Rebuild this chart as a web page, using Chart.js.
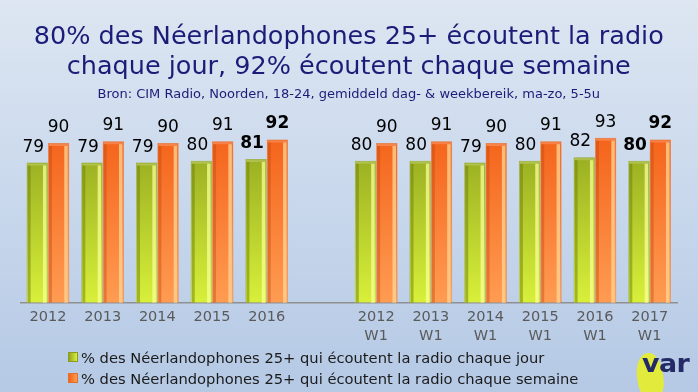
<!DOCTYPE html>
<html>
<head>
<meta charset="utf-8">
<script src="https://cdn.jsdelivr.net/npm/chart.js@4"></script>
<style>
    html, body {
        margin: 0;
        padding: 0;
    }
    body {
        width: 698px;
        height: 392px;
        overflow: hidden;
        position: relative;
        background: linear-gradient(to bottom, #dde6f2 0%, #c9d8ec 50%, #b5c9e5 100%);
        font-family: 'DejaVu Sans', sans-serif;
    }
    #wrap {
        position: absolute;
        left: 0;
        top: 0;
        width: 698px;
        height: 392px;
    }
    #legend {
        position: absolute;
        left: 68px;
        top: 347px;
        font-size: 14.7px;
        color: #1a1a1a;
        line-height: 21px;
    }
    #legend .item {
        white-space: nowrap;
    }
    #legend .box {
        display: inline-block;
        width: 8px;
        height: 8px;
        margin-right: 3px;
        vertical-align: 1px;
    }
    #logo {
        position: absolute;
        left: 630px;
        top: 346px;
        width: 68px;
        height: 46px;
    }
    #logo .blob {
        position: absolute;
        left: 7px;
        top: 7px;
        width: 26px;
        height: 46px;
        background: #e2ea3c;
        border-radius: 50% 45% 40% 40%;
        transform: rotate(-8deg);
    }
    #logo .txt {
        position: absolute;
        left: 12px;
        top: 4px;
        font: bold 24px 'DejaVu Sans', sans-serif;
        line-height: 28px;
        color: #232a66;
        letter-spacing: -0.5px;
        transform: scaleX(1.12);
        transform-origin: left top;
    }
</style>
</head>
<body>
<div id="wrap"><canvas id="barChart" width="698" height="392"></canvas></div>
<div id="legend"></div>
<div id="logo"><div class="blob"></div><div class="txt">var</div></div>
<script>
const categories = ['2012', '2013', '2014', '2015', '2016', '',
    ['2012', 'W1'], ['2013', 'W1'], ['2014', 'W1'], ['2015', 'W1'], ['2016', 'W1'], ['2017', 'W1']]
const dailyValues = [79, 79, 79, 80, 81, null, 80, 80, 79, 80, 82, 80]
const weeklyValues = [90, 91, 90, 91, 92, null, 90, 91, 90, 91, 93, 92]
const boldIndexes = [4, 11]
const seriesNames = [
    '% des Néerlandophones 25+ qui écoutent la radio chaque jour',
    '% des Néerlandophones 25+ qui écoutent la radio chaque semaine',
]
const titleLines = ['80% des Néerlandophones 25+ écoutent la radio', 'chaque jour, 92% écoutent chaque semaine']
const subtitleText = 'Bron: CIM Radio, Noorden, 18-24, gemiddeld dag- & weekbereik, ma-zo, 5-5u'

const palette = [
    { top: '#91a51e', bottom: '#d8f03a', light: 'rgba(250,255,150,0.75)', dark: 'rgba(110,125,10,0.5)', border: '#8a9a24' },
    { top: '#f4621a', bottom: '#ff9c52', light: 'rgba(255,215,150,0.75)', dark: 'rgba(190,70,10,0.4)', border: '#e0702a' },
]

function barGradient(ctx, idx) {
    const chart = ctx.chart
    const area = chart.chartArea
    if (!area) return palette[idx].top
    const yScale = chart.scales.y
    const g = chart.ctx.createLinearGradient(0, yScale.getPixelForValue(95), 0, area.bottom)
    g.addColorStop(0, palette[idx].top)
    g.addColorStop(1, palette[idx].bottom)
    return g
}

// bevel strips + value labels
const barDecor = {
    id: 'barDecor',
    afterDatasetsDraw(chart) {
        const c = chart.ctx
        chart.data.datasets.forEach((ds, di) => {
            const meta = chart.getDatasetMeta(di)
            meta.data.forEach((bar, i) => {
                const v = ds.data[i]
                if (v == null) return
                const w = bar.width
                const left = bar.x - w / 2
                const right = bar.x + w / 2
                const h = bar.base - bar.y
                c.save()
                c.fillStyle = palette[di].light
                c.fillRect(right - 5, bar.y + 3, 3.5, h - 3)
                c.fillStyle = palette[di].dark
                c.fillRect(left + 1, bar.y + 3, 3, h - 3)
                c.fillStyle = 'rgba(255,255,255,0.2)'
                c.fillRect(left + 1, bar.y + 1, w - 2, 2)
                c.restore()

                c.save()
                const bold = boldIndexes.includes(i)
                c.font = (bold ? 'bold ' : '') + '17px "DejaVu Sans", sans-serif'
                c.fillStyle = '#000'
                c.textAlign = 'center'
                c.textBaseline = 'alphabetic'
                const dx = di === 0 ? -4 : 0
                c.fillText(String(v), bar.x + dx, bar.y - 11)
                c.restore()
            })
        })
    },
}

const ctx = document.getElementById('barChart').getContext('2d')
const barChart = new Chart(ctx, {
    type: 'bar',
    data: {
        labels: categories,
        datasets: [
            {
                label: seriesNames[0],
                data: dailyValues,
                backgroundColor: (c) => barGradient(c, 0),
                borderColor: palette[0].border,
                borderWidth: 0.5,
            },
            {
                label: seriesNames[1],
                data: weeklyValues,
                backgroundColor: (c) => barGradient(c, 1),
                borderColor: palette[1].border,
                borderWidth: 0.5,
            },
        ],
    },
    options: {
        responsive: false,
        animation: false,
        layout: {
            padding: { left: 20.6, right: 21, top: 8, bottom: 0 },
        },
        datasets: {
            bar: {
                barPercentage: 1,
                categoryPercentage: 0.78,
            },
        },
        scales: {
            x: {
                grid: { display: false },
                border: { display: true, color: '#8f8f8f', width: 1.5 },
                ticks: {
                    color: '#5a5a5a',
                    font: { family: 'DejaVu Sans', size: 14.5, lineHeight: 1.3 },
                    padding: -3,
                    maxRotation: 0,
                    autoSkip: false,
                },
                afterFit(scale) {
                    scale.height = 89.3
                },
            },
            y: {
                display: false,
                min: 0,
                max: 100,
            },
        },
        plugins: {
            legend: { display: false },
            tooltip: { enabled: false },
            title: {
                display: true,
                text: titleLines,
                color: '#1c1c78',
                font: { family: 'DejaVu Sans', size: 25.5, weight: 'normal', lineHeight: 1.15 },
                padding: { top: 15, bottom: 5 },
            },
            subtitle: {
                display: true,
                text: subtitleText,
                color: '#1c1c78',
                font: { family: 'DejaVu Sans', size: 13, lineHeight: 1.2 },
                padding: { top: 0, bottom: 23 },
            },
        },
    },
    plugins: [barDecor],
})

// legend
const legendEl = document.getElementById('legend')
barChart.data.datasets.forEach((ds, i) => {
    const item = document.createElement('div')
    item.className = 'item'
    const box = document.createElement('span')
    box.className = 'box'
    box.style.background = 'linear-gradient(to right, ' + palette[i].top + ', ' + palette[i].bottom + ')'
    box.style.border = '1px solid ' + palette[i].border
    item.appendChild(box)
    item.appendChild(document.createTextNode(ds.label))
    legendEl.appendChild(item)
})
</script>
</body>
</html>
